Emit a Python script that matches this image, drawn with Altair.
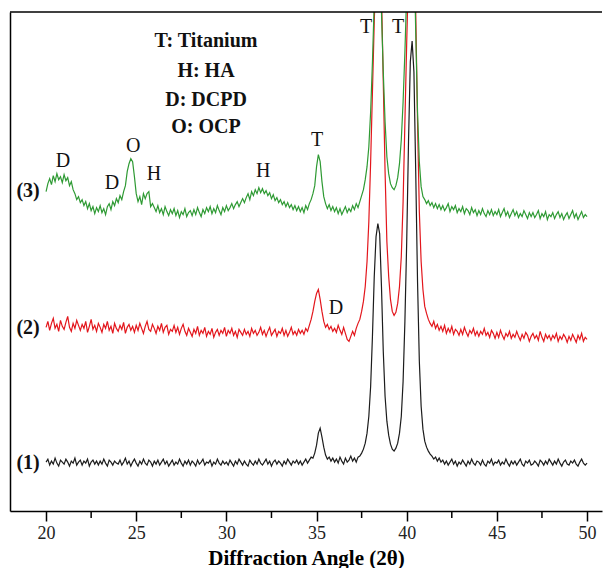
import altair as alt
import pandas as pd

# Diffraction angle grid (2-theta), 0.1 degree steps from 20 to 50
angles = [round(20 + 0.1 * i, 1) for i in range(301)]

# Sample (1) - black trace (intensity)
trace1 = [
    49,52,46,50,47,53,48,45,51,49,
    47,52,49,45,50,48,53,46,49,51,
    46,50,48,52,45,49,51,47,50,46,
    50,47,52,48,45,51,49,46,50,48,
    47,51,46,49,53,47,50,45,49,52,
    48,45,50,47,52,48,46,51,49,45,
    50,47,51,46,49,52,47,50,45,48,
    51,46,49,47,52,48,45,50,47,51,
    46,50,48,45,51,47,49,52,46,49,
    48,51,45,49,47,52,48,46,50,47,
    49,46,51,48,45,50,47,52,49,46,
    50,47,45,51,48,46,50,47,52,48,
    46,49,52,47,50,45,49,51,47,50,
    48,45,50,47,52,49,46,50,48,51,
    47,50,46,49,52,48,51,54,53,58,
    66,78,83,74,64,56,52,54,50,53,
    49,52,48,54,50,47,53,49,51,55,
    50,53,49,54,55,58,62,68,78,95,
    125,175,235,275,288,278,225,160,115,90,
    76,67,62,60,63,68,78,95,130,190,
    270,370,450,471,440,340,230,150,105,82,
    70,64,60,57,55,52,54,50,53,49,
    51,47,50,46,49,52,47,50,45,49,
    47,51,48,45,50,47,52,48,46,50,
    49,46,51,47,45,50,48,52,46,49,
    48,51,46,49,47,52,48,45,50,47,
    50,46,49,52,47,45,50,48,51,46,
    47,50,48,45,51,49,46,50,47,52,
    49,46,50,47,52,48,45,49,51,47,
    46,50,48,51,47,45,49,52,48,46,
    48,
]

# Sample (2) - red trace
trace2 = [
    184,190,181,188,193,183,187,180,191,185,
    182,189,195,184,180,188,183,191,186,181,
    187,183,190,179,185,192,182,186,180,188,
    184,179,187,183,190,181,185,178,188,183,
    180,186,182,189,178,184,187,181,185,179,
    186,181,188,183,178,185,190,182,180,187,
    183,178,185,181,188,179,184,186,177,182,
    180,186,179,184,177,183,187,180,176,183,
    179,175,182,178,185,176,181,178,184,175,
    180,177,183,174,179,182,176,181,178,184,
    175,181,178,183,176,180,174,182,179,176,
    182,177,180,175,183,178,181,176,179,184,
    177,181,175,180,184,176,179,182,175,180,
    178,183,176,181,175,179,184,177,180,176,
    182,178,181,177,183,180,186,192,200,210,
    218,222,212,200,190,184,187,182,185,180,
    183,179,186,181,177,184,178,172,170,175,
    180,176,183,188,192,200,210,225,250,290,
    350,420,490,550,590,580,520,430,340,270,
    235,212,200,196,199,208,225,255,310,390,
    470,540,600,620,590,500,390,300,250,222,
    205,198,192,188,185,190,183,187,181,185,
    180,186,178,183,179,185,177,182,180,176,
    182,177,184,179,175,181,178,183,176,180,
    175,180,177,183,176,179,174,181,178,173,
    179,174,181,176,172,178,175,180,173,177,
    174,180,175,171,177,173,179,176,170,175,
    178,173,176,171,180,174,170,177,173,176,
    171,176,173,178,170,175,172,177,174,169,
    175,171,177,173,169,176,172,178,170,174,
    172,
]

# Sample (3) - green trace
trace3 = [
    320,328,333,327,336,330,338,332,335,329,
    337,331,334,326,330,322,318,312,315,309,
    312,306,310,303,308,301,305,298,304,300,
    306,299,303,297,305,308,302,310,306,313,
    309,316,312,320,326,340,348,353,350,335,
    318,310,315,307,318,313,318,320,305,308,
    304,300,306,299,303,297,305,300,296,302,
    298,303,296,301,294,300,297,303,295,299,
    301,296,302,297,304,299,295,302,298,304,
    300,305,298,303,299,306,301,297,304,300,
    306,301,304,308,303,307,310,305,309,313,
    309,314,318,312,320,316,322,318,324,319,
    323,318,321,316,319,313,317,311,314,309,
    312,307,310,305,309,304,307,302,306,301,
    305,300,304,299,306,302,308,312,318,326,
    345,357,350,330,315,308,303,307,301,305,
    300,304,298,303,297,301,305,299,303,300,
    306,302,308,304,310,316,322,332,345,365,
    400,450,510,560,580,560,500,440,390,355,
    338,328,324,322,326,334,348,372,410,460,
    520,580,620,620,570,480,400,350,325,315,
    312,308,311,306,309,304,308,303,307,302,
    306,301,304,308,300,305,302,306,299,303,
    300,305,298,303,301,297,304,299,302,296,
    301,297,303,298,295,301,297,302,296,300,
    297,302,295,299,303,296,300,294,298,302,
    296,300,294,298,295,301,297,293,299,295,
    299,294,297,301,293,298,295,300,292,297,
    295,299,293,297,300,294,298,292,296,299,
    293,297,301,294,298,292,296,300,294,297,
    295,
]

series_names = ["(1)", "(2)", "(3)"]
series_colors = ["#1c1c1c", "#e3161c", "#2e9a33"]

major_ticks = [20, 25, 30, 35, 40, 45, 50]
minor_ticks = [22.5, 27.5, 32.5, 37.5, 42.5, 47.5]

legend_text = ["T: Titanium", "H: HA", "D: DCPD", "O: OCP"]
legend_x = [28.87, 28.87, 28.87, 28.87]
legend_y = [471, 441, 412, 385]

peak_text = ["D", "D", "O", "H", "H", "T", "T", "T", "D"]
peak_x = [20.94, 23.66, 24.83, 25.99, 32.04, 35.03, 37.75, 39.52, 36.08]
peak_y = [351, 329, 366, 338, 341, 372, 485, 485, 203]

series_label_x = [19.0, 19.0, 19.0]
series_label_y = [48, 183, 321]

assert len(trace1) == len(angles) == len(trace2) == len(trace3)

SERIF = "Liberation Serif, Times New Roman, Times, serif"
PLOT_W = 592
PLOT_H = 499

rows = []
for name, vals in zip(series_names, [trace1, trace2, trace3]):
    for a, v in zip(angles, vals):
        rows.append({"x": a, "y": v, "series": name})
df = pd.DataFrame(rows)

x_scale = alt.Scale(domain=[18.0, 50.83], nice=False, zero=False)
y_scale = alt.Scale(domain=[0, 500], nice=False, zero=False)

lines = alt.Chart(df).mark_line(strokeWidth=1.2, clip=True).encode(
    x=alt.X("x:Q", scale=x_scale,
            axis=alt.Axis(values=major_ticks, tickSize=10, tickWidth=1.5,
                          tickColor="black", domainColor="black", domainWidth=1.5,
                          labelFont=SERIF, labelFontSize=18,
                          labelColor="#222", labelPadding=3, grid=False,
                          title="Diffraction Angle (2θ)", titleFont=SERIF,
                          titleFontSize=21, titleFontWeight="bold", titleColor="black",
                          titlePadding=5)),
    y=alt.Y("y:Q", scale=y_scale,
            axis=alt.Axis(labels=False, ticks=False, grid=False, title=None,
                          domainColor="black", domainWidth=1.5)),
    color=alt.Color("series:N", scale=alt.Scale(domain=series_names, range=series_colors),
                    legend=None),
    detail="series:N",
)

minor_df = pd.DataFrame({"x": minor_ticks})
minor = alt.Chart(minor_df).mark_rule(color="black", strokeWidth=1.5, clip=False).encode(
    x=alt.X("x:Q"),
    y=alt.value(PLOT_H),
    y2=alt.value(PLOT_H + 7),
)

top_df = pd.DataFrame({"k": [0]})
top_line = alt.Chart(top_df).mark_rule(color="black", strokeWidth=1.5).encode(
    x=alt.value(0), x2=alt.value(PLOT_W), y=alt.value(0)
)

legend_df = pd.DataFrame({"x": legend_x, "y": legend_y, "t": legend_text})
legend = alt.Chart(legend_df).mark_text(
    font=SERIF, fontSize=20, fontWeight="bold", color="#111",
    align="center", baseline="middle"
).encode(x="x:Q", y="y:Q", text="t:N")

peak_df = pd.DataFrame({"x": peak_x, "y": peak_y, "t": peak_text})
peaks = alt.Chart(peak_df).mark_text(
    font=SERIF, fontSize=20, color="#111",
    align="center", baseline="middle"
).encode(x="x:Q", y="y:Q", text="t:N")

sl_df = pd.DataFrame({"x": series_label_x, "y": series_label_y, "t": series_names})
series_labels = alt.Chart(sl_df).mark_text(
    font=SERIF, fontSize=20, fontWeight="bold", color="#111",
    align="center", baseline="middle"
).encode(x="x:Q", y="y:Q", text="t:N")

chart = alt.layer(lines, minor, top_line, legend, peaks, series_labels).properties(
    width=PLOT_W, height=PLOT_H,
    padding={"left": 1, "top": 3, "right": 0, "bottom": 0},
).configure_view(stroke=None)

chart.save("out.html", embed_options={"renderer": "svg", "actions": False})
